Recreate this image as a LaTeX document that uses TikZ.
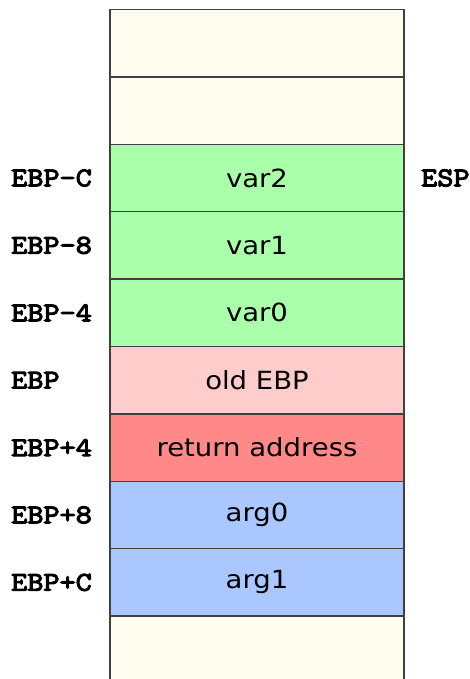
\documentclass[tikz,border=0pt]{standalone}
\usepackage{fontspec}
\setmainfont[FakeStretch=1.1]{DejaVu Sans}
\newfontfamily\regfont[FakeStretch=1.16,AutoFakeBold=4]{Latin Modern Mono}
\usetikzlibrary{positioning}
\definecolor{freecol}{RGB}{253,253,240}
\definecolor{localcol}{RGB}{170,255,170}
\definecolor{savedcol}{RGB}{255,204,204}
\definecolor{retcol}{RGB}{255,136,136}
\definecolor{argcol}{RGB}{170,200,255}
\tikzset{
  cell/.style={draw=black!75, line width=1.5pt, outer sep=0pt, inner sep=0pt,
    minimum width=294pt, minimum height=67.4pt, font=\fontsize{25}{28}\selectfont},
  reg/.style={anchor=west, inner sep=0pt, font=\regfont\bfseries\fontsize{27}{30}\selectfont},
}
\begin{document}
\begin{tikzpicture}[x=1pt,y=1pt]
\useasboundingbox (0,0) rectangle (470,-679);
\clip (0,0) rectangle (470,-679);
% stack cells, top to bottom
\node[cell,fill=freecol,anchor=north west] (free1) at (110,-9.5) {};
\node[cell,fill=freecol,below=0pt of free1] (free2) {};
\node[cell,fill=localcol,below=0pt of free2] (var2) {var2};
\node[cell,fill=localcol,below=0pt of var2] (var1) {var1};
\node[cell,fill=localcol,below=0pt of var1] (var0) {var0};
\node[cell,fill=savedcol,below=0pt of var0] (oldebp) {old EBP};
\node[cell,fill=retcol,below=0pt of oldebp] (retaddr) {return address};
\node[cell,fill=argcol,below=0pt of retaddr] (arg0) {arg0};
\node[cell,fill=argcol,below=0pt of arg0] (arg1) {arg1};
\node[cell,fill=freecol,below=0pt of arg1] (free3) {};
% register offsets
\node[reg] (ebpmc) at (11,0 |- var2) {EBP-C};
\node[reg] (ebpm8) at (11,0 |- var1) {EBP-8};
\node[reg] (ebpm4) at (11,0 |- var0) {EBP-4};
\node[reg] (ebp) at (11,0 |- oldebp) {EBP};
\node[reg] (ebpp4) at (11,0 |- retaddr) {EBP+4};
\node[reg] (ebpp8) at (11,0 |- arg0) {EBP+8};
\node[reg] (ebppc) at (11,0 |- arg1) {EBP+C};
\node[reg] (esp) at (421,0 |- var2) {ESP};
\end{tikzpicture}
\end{document}
